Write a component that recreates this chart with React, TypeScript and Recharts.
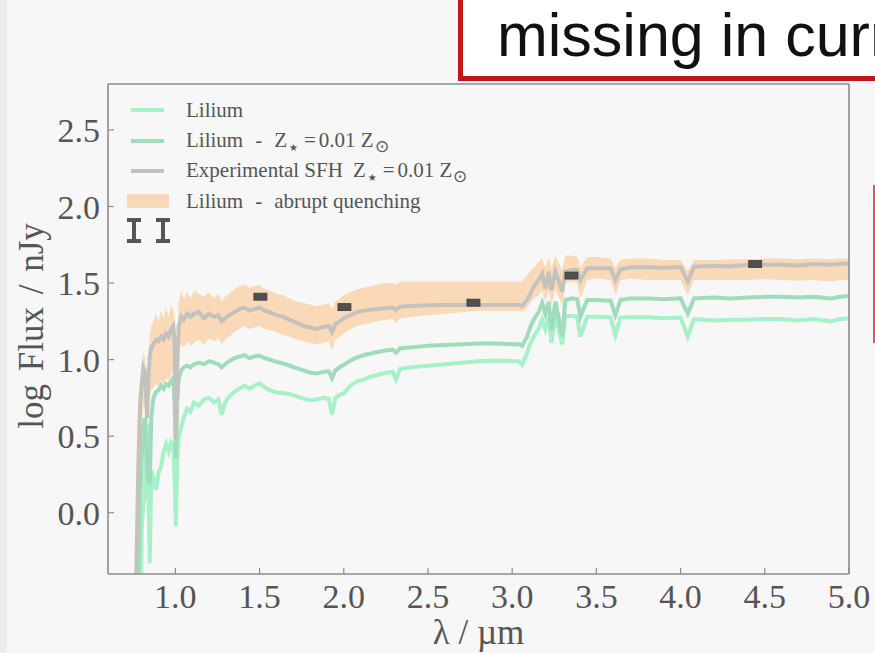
import { ComposedChart, Line, Area, Scatter, XAxis, YAxis } from "recharts";

// wavelength grid in micron
const wavelength = [
  0.74, 0.76, 0.768, 0.78, 0.79, 0.8, 0.81, 0.818, 0.825, 0.832, 0.84, 0.848, 0.857, 0.87, 0.885, 0.9,
  0.915, 0.93, 0.945, 0.96, 0.975, 0.988, 0.996, 1.003, 1.01, 1.02, 1.035, 1.05, 1.07, 1.09, 1.11, 1.14,
  1.17, 1.2, 1.23, 1.255, 1.275, 1.295, 1.32, 1.35, 1.38, 1.41, 1.44, 1.47, 1.5, 1.53, 1.56, 1.6,
  1.64, 1.68, 1.72, 1.76, 1.8, 1.84, 1.88, 1.91, 1.93, 1.95, 1.975, 2.0, 2.04, 2.08, 2.12, 2.16,
  2.2, 2.25, 2.29, 2.31, 2.335, 2.4, 2.5, 2.6, 2.7, 2.8, 2.9, 3.0, 3.04, 3.059, 3.088, 3.108,
  3.128, 3.158, 3.178, 3.197, 3.217, 3.233, 3.257, 3.297, 3.316, 3.356, 3.386, 3.405, 3.445, 3.505, 3.584, 3.613,
  3.643, 3.703, 3.802, 3.9, 4.0, 4.043, 4.079, 4.198, 4.3, 4.396, 4.5, 4.594, 4.7, 4.792, 4.89, 4.95,
  5.0,
];

const lilium = [
  -2, -2, -2, -2, -1.2, -0.1, 0.05, 0.1, 0.35, 0.58, 0.2, -0.33, 0.28, 0.22, 0.15, 0.26,
  0.3, 0.4, 0.45, 0.4, 0.46, 0.44, 0.2, -0.09, 0.3, 0.5, 0.56, 0.62, 0.68, 0.66, 0.72, 0.7,
  0.74, 0.75, 0.72, 0.74, 0.64, 0.72, 0.76, 0.79, 0.81, 0.83, 0.81, 0.83, 0.845, 0.82, 0.8, 0.785,
  0.78, 0.775, 0.76, 0.745, 0.735, 0.74, 0.75, 0.745, 0.64, 0.75, 0.77, 0.78, 0.83, 0.86, 0.87, 0.89,
  0.9, 0.915, 0.92, 0.87, 0.94, 0.95, 0.96, 0.97, 0.98, 0.99, 0.995, 0.99, 0.99, 0.966, 1.04, 1.106,
  1.15, 1.204, 1.26, 1.2, 1.285, 1.11, 1.29, 1.1, 1.285, 1.285, 1.28, 1.15, 1.28, 1.28, 1.275, 1.16,
  1.275, 1.276, 1.276, 1.27, 1.275, 1.15, 1.265, 1.255, 1.26, 1.26, 1.265, 1.265, 1.255, 1.265, 1.25, 1.265,
  1.27,
];

const liliumLowZ = [
  -2, -2, -1.5, -0.4, 0.05, 0.35, 0.58, 0.62, 0.5, 0.32, 0.22, 0.19, 0.62, 0.75, 0.79, 0.8,
  0.83, 0.81, 0.84, 0.83, 0.86, 0.88, 0.7, 0.35, 0.7, 0.88, 0.93, 0.95, 0.96, 0.95, 0.97, 0.98,
  0.97, 0.99, 0.98, 0.97, 0.95, 0.97, 0.99, 1.01, 1.02, 1.03, 1.01, 1.02, 1.025, 1.01, 1.0, 0.985,
  0.975, 0.96, 0.945, 0.93, 0.915, 0.91, 0.92, 0.925, 0.88, 0.93, 0.95, 0.965, 0.995, 1.015, 1.03, 1.04,
  1.05, 1.06, 1.065, 1.045, 1.074, 1.08, 1.09, 1.095, 1.1, 1.105, 1.105, 1.1, 1.1, 1.09, 1.15, 1.215,
  1.26, 1.313, 1.37, 1.3, 1.378, 1.193, 1.378, 1.15, 1.39, 1.4, 1.395, 1.28, 1.39, 1.39, 1.385, 1.29,
  1.39, 1.4, 1.4, 1.395, 1.4, 1.3, 1.4, 1.405, 1.4, 1.405, 1.41, 1.41, 1.405, 1.41, 1.4, 1.41,
  1.415,
];

const experimentalSfh = [
  -2, -1.0, -0.4, 0.3, 0.7, 0.84, 0.95, 0.93, 0.8, 0.62, 0.88, 1.02, 1.08, 1.1, 1.13, 1.12,
  1.15, 1.13, 1.17, 1.15, 1.2, 1.22, 1.1, 0.48, 0.92, 1.22, 1.28, 1.26, 1.3, 1.28, 1.3, 1.31,
  1.27, 1.3, 1.28, 1.29, 1.25, 1.27, 1.29, 1.31, 1.33, 1.34, 1.32, 1.33, 1.34, 1.32, 1.31, 1.29,
  1.28, 1.26, 1.24, 1.22, 1.21, 1.2, 1.215, 1.22, 1.18, 1.23, 1.25, 1.27, 1.29, 1.31, 1.32, 1.325,
  1.33, 1.335, 1.34, 1.325, 1.345, 1.35, 1.355, 1.357, 1.357, 1.357, 1.357, 1.357, 1.357, 1.35, 1.389, 1.43,
  1.476, 1.52, 1.56, 1.465, 1.574, 1.454, 1.574, 1.444, 1.574, 1.585, 1.585, 1.52, 1.596, 1.596, 1.596, 1.52,
  1.59, 1.603, 1.603, 1.6, 1.605, 1.509, 1.607, 1.612, 1.61, 1.618, 1.62, 1.62, 1.615, 1.625, 1.62, 1.625,
  1.63,
];

const quenchLow = [
  -2, -1.5, -0.6, 0.1, 0.45, 0.6, 0.7, 0.68, 0.58, 0.45, 0.65, 0.76, 0.8, 0.82, 0.84, 0.83,
  0.86, 0.84, 0.88, 0.86, 0.9, 0.92, 0.8, 0.4, 0.75, 1.05, 1.1, 1.08, 1.12, 1.09, 1.11, 1.13,
  1.1, 1.14, 1.12, 1.14, 1.1, 1.13, 1.15, 1.18, 1.2, 1.22, 1.2, 1.21, 1.22, 1.2, 1.19, 1.18,
  1.16, 1.15, 1.13, 1.12, 1.11, 1.1, 1.11, 1.12, 1.06, 1.13, 1.15, 1.17, 1.2, 1.22, 1.23, 1.24,
  1.25, 1.26, 1.265, 1.24, 1.27, 1.28, 1.29, 1.3, 1.31, 1.32, 1.32, 1.32, 1.32, 1.31, 1.34, 1.37,
  1.4, 1.42, 1.45, 1.38, 1.45, 1.36, 1.46, 1.35, 1.5, 1.51, 1.5, 1.4, 1.52, 1.53, 1.52, 1.42,
  1.52, 1.53, 1.52, 1.52, 1.52, 1.42, 1.52, 1.52, 1.52, 1.52, 1.525, 1.52, 1.515, 1.52, 1.51, 1.52,
  1.52,
];

const quenchHigh = [
  -2, -0.8, 0.0, 0.45, 0.8, 0.95, 1.05, 1.02, 0.92, 0.8, 1.02, 1.15, 1.22, 1.25, 1.3, 1.25,
  1.32, 1.27, 1.34, 1.28, 1.36, 1.33, 1.2, 0.7, 1.1, 1.38, 1.45, 1.4, 1.44, 1.4, 1.45, 1.43,
  1.41, 1.44, 1.4, 1.43, 1.38, 1.41, 1.43, 1.46, 1.48, 1.49, 1.47, 1.48, 1.49, 1.46, 1.45, 1.43,
  1.42, 1.4, 1.38, 1.37, 1.36, 1.35, 1.36, 1.37, 1.33, 1.38, 1.4, 1.42, 1.44, 1.46, 1.47, 1.48,
  1.49, 1.5, 1.5, 1.49, 1.51, 1.51, 1.51, 1.51, 1.51, 1.51, 1.51, 1.51, 1.51, 1.51, 1.55, 1.58,
  1.6, 1.64, 1.66, 1.6, 1.67, 1.6, 1.68, 1.58, 1.68, 1.68, 1.67, 1.6, 1.67, 1.67, 1.66, 1.6,
  1.65, 1.66, 1.66, 1.65, 1.65, 1.58, 1.65, 1.65, 1.655, 1.655, 1.66, 1.66, 1.655, 1.66, 1.655, 1.66,
  1.66,
];

// photometric points
const photWavelength = [1.505, 2.004, 2.77, 3.352, 4.443];
const photFlux = [1.411, 1.343, 1.372, 1.549, 1.624];

const xTicks = [1.0, 1.5, 2.0, 2.5, 3.0, 3.5, 4.0, 4.5, 5.0];
const yTicks = [0.0, 0.5, 1.0, 1.5, 2.0, 2.5];

const SERIF = "'Liberation Serif', 'Times New Roman', serif";
const MINT = "#a6f1c8";
const GREEN = "#9edcbb";
const GREY = "#c5c1bd";
const PEACH = "#f9d9b8";
const AXIS = "#8c8c8c";
const TEXT = "#555555";

const spectra = wavelength.map((w, i) => ({
  w,
  lilium: lilium[i],
  lowZ: liliumLowZ[i],
  exp: experimentalSfh[i],
  quench: [quenchLow[i], quenchHigh[i]],
}));

const phot = photWavelength.map((w, i) => ({ w, flux: photFlux[i] }));

const PhotBox = (props: any) => {
  const { cx, cy } = props;
  return (
    <rect x={cx - 6.5} y={cy - 3.5} width={13} height={7} fill="#505050" stroke="#3c3c3c" strokeWidth={0.8} />
  );
};

const YLabel = () => (
  <text
    x={43}
    y={326}
    transform="rotate(-90 43 326)"
    textAnchor="middle"
    fill={TEXT}
    fontSize={35}
    fontFamily={SERIF}
    style={{ wordSpacing: 4 }}
  >
    log Flux / nJy
  </text>
);

const Star = () => (
  <span style={{ fontSize: 10, position: "relative", top: 4, marginLeft: 2, fontFamily: "'DejaVu Sans', sans-serif" }}>
    ★
  </span>
);

const Sun = () => (
  <span style={{ fontSize: 17, position: "relative", top: 5, marginLeft: 1 }}>⊙</span>
);

const Dash = () => <span style={{ margin: "0 12px" }}>-</span>;

const ErrSymbol = () => (
  <svg width={14} height={25} style={{ display: "block" }}>
    <rect x={0} y={0} width={14} height={4} fill="#555" />
    <rect x={5} y={0} width={4} height={25} fill="#555" />
    <rect x={0} y={21} width={14} height={4} fill="#555" />
  </svg>
);

function LegendBox() {
  const row: React.CSSProperties = { display: "flex", alignItems: "center", height: 30.4, whiteSpace: "nowrap" };
  const sym: React.CSSProperties = { width: 59, display: "flex", alignItems: "center" };
  const line = (c: string) => (
    <div style={sym}>
      <div style={{ marginLeft: 4, width: 33, height: 4, background: c }} />
    </div>
  );
  return (
    <div
      style={{
        position: "absolute",
        left: 127,
        top: 95,
        fontFamily: SERIF,
        fontSize: 21,
        color: TEXT,
        lineHeight: 1,
      }}
    >
      <div style={row}>
        {line(MINT)}
        <span>Lilium</span>
      </div>
      <div style={row}>
        {line(GREEN)}
        <span>
          Lilium
          <Dash />Z<Star />
          <span style={{ margin: "0 3px 0 6px" }}>=</span>0.01 Z<Sun />
        </span>
      </div>
      <div style={row}>
        {line(GREY)}
        <span>
          Experimental SFH<span style={{ marginLeft: 10 }}>Z</span>
          <Star />
          <span style={{ margin: "0 3px 0 6px" }}>=</span>0.01 Z<Sun />
        </span>
      </div>
      <div style={row}>
        <div style={sym}>
          <div style={{ width: 42, height: 14, background: PEACH }} />
        </div>
        <span>
          Lilium
          <Dash />abrupt quenching
        </span>
      </div>
      <div style={{ display: "flex", gap: 15, marginTop: 1, marginLeft: 0 }}>
        <ErrSymbol />
        <ErrSymbol />
      </div>
    </div>
  );
}

export default function App() {
  const tickStyle = { fill: TEXT, fontSize: 34, fontFamily: SERIF };
  return (
    <div
      style={{
        position: "absolute",
        left: 0,
        top: 0,
        width: 875,
        height: 653,
        overflow: "hidden",
        background: "#f7f7f7",
      }}
    >
      <div style={{ position: "absolute", left: 0, top: 0, width: 7, height: 653, background: "#ececec" }} />
      <div style={{ position: "absolute", left: 0, top: 0 }}>
        <ComposedChart width={875} height={653} data={spectra} margin={{ top: 83, right: 25, bottom: 4, left: 8 }}>
          <XAxis
            dataKey="w"
            type="number"
            domain={[0.6, 5.0]}
            ticks={xTicks}
            allowDataOverflow
            height={75}
            tickSize={-6}
            tickMargin={16}
            tick={tickStyle}
            tickFormatter={(v: number) => v.toFixed(1)}
            axisLine={{ stroke: AXIS, strokeWidth: 1.6 }}
            tickLine={{ stroke: AXIS, strokeWidth: 1.2 }}
            label={{ value: "λ / µm", position: "insideBottom", offset: 5, fontSize: 35, fill: TEXT, fontFamily: SERIF }}
          />
          <XAxis
            xAxisId="top"
            orientation="top"
            type="number"
            domain={[0.6, 5.0]}
            ticks={xTicks}
            allowDataOverflow
            height={1}
            tickSize={-6}
            tick={false}
            axisLine={{ stroke: AXIS, strokeWidth: 1.6 }}
            tickLine={{ stroke: AXIS, strokeWidth: 1.2 }}
          />
          <YAxis
            type="number"
            domain={[-0.4, 2.8]}
            ticks={yTicks}
            allowDataOverflow
            width={100}
            tickSize={-6}
            tickMargin={14}
            tick={tickStyle}
            tickFormatter={(v: number) => v.toFixed(1)}
            axisLine={{ stroke: AXIS, strokeWidth: 1.6 }}
            tickLine={{ stroke: AXIS, strokeWidth: 1.2 }}
            label={<YLabel />}
          />
          <YAxis
            yAxisId="right"
            orientation="right"
            type="number"
            domain={[-0.4, 2.8]}
            ticks={yTicks}
            allowDataOverflow
            width={1}
            tickSize={-6}
            tick={false}
            axisLine={{ stroke: AXIS, strokeWidth: 1.6 }}
            tickLine={{ stroke: AXIS, strokeWidth: 1.2 }}
          />
          <Area
            dataKey="quench"
            type="linear"
            stroke="none"
            fill={PEACH}
            fillOpacity={1}
            isAnimationActive={false}
            activeDot={false}
          />
          <Line dataKey="lilium" type="linear" stroke={MINT} strokeWidth={4} dot={false} isAnimationActive={false} />
          <Line dataKey="lowZ" type="linear" stroke={GREEN} strokeWidth={4} dot={false} isAnimationActive={false} />
          <Line dataKey="exp" type="linear" stroke={GREY} strokeWidth={4} dot={false} isAnimationActive={false} />
          <Scatter data={phot} dataKey="flux" shape={<PhotBox />} isAnimationActive={false} />
        </ComposedChart>
      </div>
      <LegendBox />
      <div
        style={{
          position: "absolute",
          left: 458,
          top: -10,
          width: 440,
          height: 91,
          boxSizing: "border-box",
          border: "5px solid #c2151e",
          background: "#ffffff",
        }}
      />
      <div
        style={{
          position: "absolute",
          left: 497,
          top: 5,
          fontFamily: "'Liberation Sans', Arial, sans-serif",
          fontSize: 61,
          lineHeight: "61px",
          color: "#111",
          whiteSpace: "nowrap",
        }}
      >
        missing in current
      </div>
      <div style={{ position: "absolute", left: 873, top: 185, width: 2, height: 158, background: "#dd5a5a" }} />
    </div>
  );
}
